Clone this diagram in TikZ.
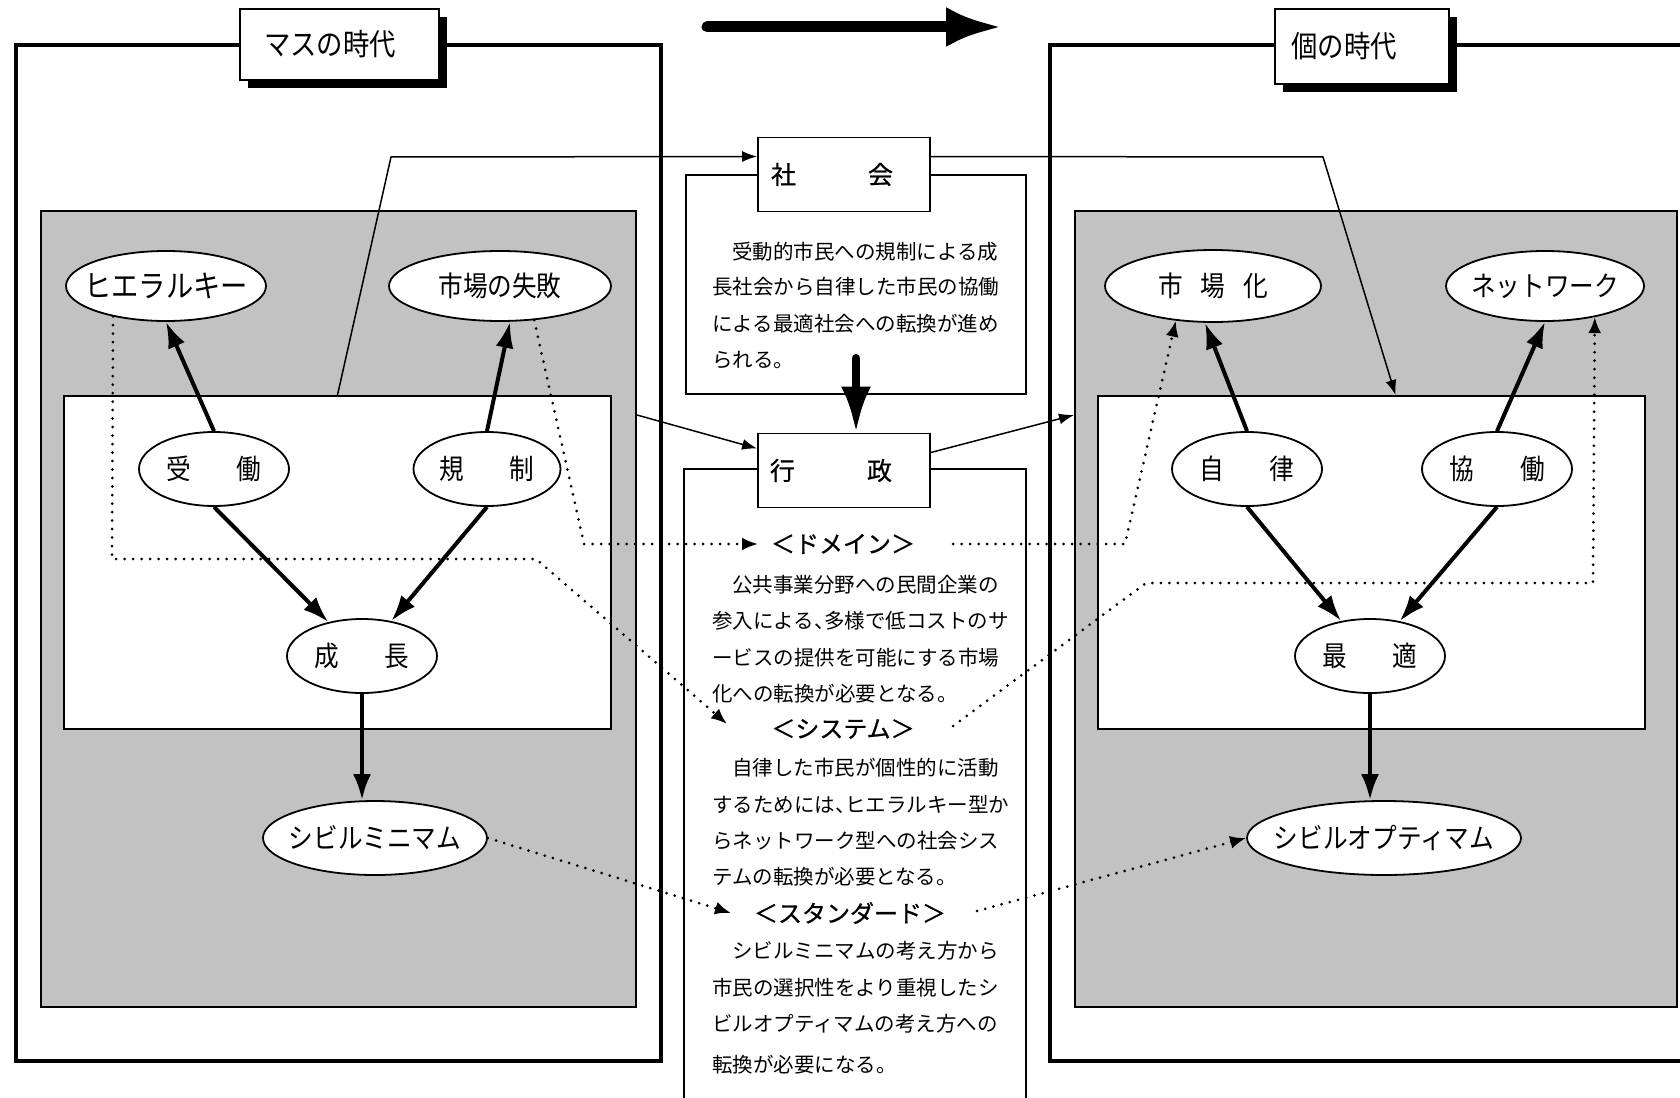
\documentclass[tikz,border=0pt]{standalone}
\usepackage{fontspec}
\newfontfamily\jp{Noto Sans CJK JP}
\newfontfamily\jpc[FakeStretch=0.88]{Noto Sans CJK JP}
\newfontfamily\jpk[FakeBold=0.8]{Noto Sans CJK JP}
\usetikzlibrary{shapes.geometric,arrows.meta,calc}
\begin{document}
\begin{tikzpicture}[x=1pt,y=-1pt,
  ell/.style={ellipse, draw, line width=1.8pt, fill=white, inner sep=0pt, font=\jpc\fontsize{28}{28}\selectfont},
  frameline/.style={draw, line width=4pt},
  graybox/.style={rectangle, draw, line width=2pt, fill=black!24, inner sep=0pt},
  whitebox/.style={rectangle, draw, line width=2pt, fill=white, inner sep=0pt},
  textbox/.style={rectangle, draw, line width=1.5pt, fill=white, inner sep=0pt},
  keybox/.style={rectangle, draw, line width=1.8pt, fill=white, inner sep=0pt, minimum width=172pt, minimum height=74pt, font=\jpk\fontsize{25}{25}\selectfont},
  titlebox/.style={rectangle, draw, line width=1.5pt, fill=white, inner sep=0pt, font=\jpc\fontsize{30}{30}\selectfont},
  para/.style={anchor=west, inner sep=0pt, font=\jp\fontsize{20.5}{20.5}\selectfont},
  keyword/.style={inner sep=0pt, font=\jpk\fontsize{24}{24}\selectfont},
  thickarrow/.style={line width=4pt, -{Latex[length=26pt,width=18pt]}},
  thinarrow/.style={line width=1.5pt, -{Latex[length=15pt,width=11pt]}},
  dotline/.style={line width=3pt, dash pattern=on 0pt off 8.5pt, line cap=round, -{Latex[length=16pt,width=13pt]}},
  bigarrow/.style={line width=11pt, line cap=round, -{Latex[length=56pt,width=40pt]}},
  downarrow/.style={line width=8pt, line cap=round, -{Latex[length=46pt,width=30pt]}}
]
\useasboundingbox (0,0) rectangle (1680,1097);
\clip (0,0) rectangle (1680,1097);
\fill[white] (0,0) rectangle (1680,1097);

% outer frames
\draw[frameline] (16,45) rectangle (661,1061);
\draw[frameline] (1700,45) -- (1050,45) -- (1050,1061) -- (1700,1061);

% gray boxes and inner white boxes
\node[graybox, minimum width=595pt, minimum height=796pt] (grayL) at (338.5,609) {};
\node[graybox, minimum width=602pt, minimum height=796pt] (grayR) at (1376,609) {};
\node[whitebox, minimum width=547pt, minimum height=333pt] (innerL) at (337.5,562.5) {};
\node[whitebox, minimum width=547pt, minimum height=333pt] (innerR) at (1371.5,562.5) {};

% center text boxes
\node[textbox, minimum width=340pt, minimum height=219pt] (tbA) at (856,284.5) {};
\node[textbox, minimum width=342pt, minimum height=641pt] (tbB) at (855,789.5) {};

% title boxes with shadows
\fill[black] (248,17) rectangle (447,88);
\node[titlebox, minimum width=199pt, minimum height=71pt] (titleL) at (339.5,44.5) {マスの時代\hspace{19pt}\mbox{}};
\fill[black] (1283,17) rectangle (1457,92);
\node[titlebox, minimum width=174pt, minimum height=75pt] (titleR) at (1362,46.5) {個の時代\hspace{36pt}\mbox{}};

% big top arrow
\coordinate (topA) at (707,27);
\coordinate (topB) at (1002,27);
\draw[bigarrow] (topA) -- (topB);

% key boxes
\node[keybox] (shakai) at (844,174.5) {社\hspace{72pt}会\hspace{24pt}\mbox{}};
\node[keybox] (gyosei) at (844,470.5) {行\hspace{72pt}政\hspace{26pt}\mbox{}};

% ellipses
\node[ell, minimum width=200pt, minimum height=70pt] (hier) at (166,286) {\makebox[0pt]{\fontsize{31}{31}\selectfont ヒエラルキー}};
\node[ell, minimum width=222pt, minimum height=70pt] (shippai) at (500,286) {\makebox[0pt]{市場の失敗}};
\node[ell, minimum width=150pt, minimum height=74pt] (judo) at (214,469) {\makebox[0pt]{受\hspace{46pt}働}};
\node[ell, minimum width=147pt, minimum height=74pt] (kisei) at (487,469) {\makebox[0pt]{規\hspace{46pt}制}};
\node[ell, minimum width=150pt, minimum height=74pt] (seicho) at (362,656) {\makebox[0pt]{成\hspace{46pt}長}};
\node[ell, minimum width=224pt, minimum height=74pt] (civmin) at (375,838) {\makebox[0pt]{シビルミニマム}};
\node[ell, minimum width=216pt, minimum height=72pt] (shijoka) at (1213,286) {\makebox[0pt]{市\hspace{18pt}場\hspace{18pt}化}};
\node[ell, minimum width=198pt, minimum height=70pt] (network) at (1545,286) {\makebox[0pt]{ネットワーク}};
\node[ell, minimum width=150pt, minimum height=74pt] (jiritsu) at (1247,469) {\makebox[0pt]{自\hspace{46pt}律}};
\node[ell, minimum width=150pt, minimum height=74pt] (kyodo) at (1497,469) {\makebox[0pt]{協\hspace{46pt}働}};
\node[ell, minimum width=150pt, minimum height=74pt] (saiteki) at (1370,656) {\makebox[0pt]{最\hspace{46pt}適}};
\node[ell, minimum width=274pt, minimum height=74pt] (civopt) at (1384,838) {\makebox[0pt]{シビルオプティマム}};

% keywords in center box
\node[keyword] (domain) at (843,544) {＜ドメイン＞};
\node[keyword] (system) at (843,729) {＜システム＞};
\node[keyword] (standard) at (850,913) {＜スタンダード＞};
\coordinate (domL) at (758,544);
\coordinate (domR) at (953,544);
\coordinate (sysL) at (727,724);
\coordinate (sysR) at (953,726);
\coordinate (stdL) at (731,913);
\coordinate (stdR) at (977,911);

% paragraphs
\node[para] (a1) at (732,252) {受動的市民への規制による成};
\node[para] (a2) at (712,287) {長社会から自律した市民の協働};
\node[para] (a3) at (712,324) {による最適社会への転換が進め};
\node[para] (a4) at (712,360) {られる。};
\node[para] (b1) at (732,585) {公共事業分野への民間企業の};
\node[para] (b2) at (712,621) {参入による\makebox[0.5em][l]{、}多様で低コストのサ};
\node[para] (b3) at (712,658) {ービスの提供を可能にする市場};
\node[para] (b4) at (712,694) {化への転換が必要となる。};
\node[para] (c1) at (732,768) {自律した市民が個性的に活動};
\node[para] (c2) at (712,805) {するためには\makebox[0.5em][l]{、}ヒエラルキー型か};
\node[para] (c3) at (712,841) {らネットワーク型への社会シス};
\node[para] (c4) at (712,877) {テムの転換が必要となる。};
\node[para] (d1) at (732,951) {シビルミニマムの考え方から};
\node[para] (d2) at (712,988) {市民の選択性をより重視したシ};
\node[para] (d3) at (712,1024) {ビルオプティマムの考え方への};
\node[para] (d4) at (712,1065) {転換が必要になる。};

% dotted connectors
\draw[dotline] (hier.-150) -- (112,559) -- (536,559) -- (sysL);
\draw[dotline] (shippai.-45) -- (584,544) -- (domL);
\draw[dotline] (civmin.east) -- (stdL);
\draw[dotline] (domR) -- (1125,544) -- (shijoka.-137);
\draw[dotline] (sysR) -- (1146,583) -- (1593,583) -- (network.-32);
\draw[dotline] (stdR) -- (civopt.west);

% thin connectors
\draw[thinarrow] (innerL.north) -- (391,157) -- ($(shakai.west)+(0,-18)$);
\draw[thinarrow] ($(shakai.east)+(0,-18)$) -- (1323,157) -- ($(innerR.north)+(24,0)$);
\draw[thinarrow] ($(grayL.north east)+(0,205)$) -- ($(gyosei.west)+(0,-22)$);
\draw[thinarrow] ($(gyosei.east)+(0,-18)$) -- ($(grayR.north west)+(0,205)$);

% down arrow from society text to administration
\coordinate (dnA) at (856,358);
\draw[downarrow] (dnA) -- ($(gyosei.north)+(12,0)$);

% thick arrows
\draw[thickarrow] (judo.north) -- (hier.south);
\draw[thickarrow] (kisei.north) -- ($(shippai.south)+(10,0)$);
\draw[thickarrow] (judo.south) -- (seicho);
\draw[thickarrow] (kisei.south) -- (seicho);
\draw[thickarrow] (seicho.south) -- (seicho.south |- civmin.north);
\draw[thickarrow] (jiritsu.north) -- ($(shijoka.south)+(-8,0)$);
\draw[thickarrow] (kyodo.north) -- (network.south);
\draw[thickarrow] (jiritsu.south) -- (saiteki);
\draw[thickarrow] (kyodo.south) -- (saiteki);
\draw[thickarrow] (saiteki.south) -- (saiteki.south |- civopt.north);
\end{tikzpicture}
\end{document}
